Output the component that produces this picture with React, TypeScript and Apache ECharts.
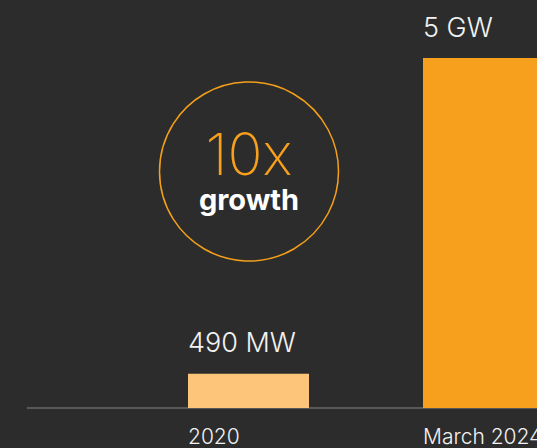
import React, { useEffect, useRef } from "react";
import * as echarts from "echarts";

const categories = ["2020", "March 2024"];
const capacityMW = [490, 5000];
const valueLabels = ["490 MW", "5 GW"];
const barColors = ["#fdc57a", "#f6a01d"];
const yMax = 5000;
const growthText = "10x";
const growthSub = "growth";

export default function App() {
  const ref = useRef<HTMLDivElement>(null);
  useEffect(() => {
    const chart = echarts.init(ref.current!, null, { renderer: "svg" });
    const fontFamily = "Inter, Roboto, sans-serif";
    chart.setOption({
      animation: false,
      backgroundColor: "#2c2c2c",
      grid: {
        left: 131,
        top: 58,
        width: 470,
        height: 350,
        containLabel: false,
        outerBoundsMode: "none",
      },
      xAxis: {
        type: "category",
        data: categories,
        axisLine: { show: false },
        axisTick: { show: false },
        axisLabel: {
          color: "#f2f2f2",
          fontSize: 21,
          fontFamily,
          fontWeight: 300,
          margin: 18,
          width: 121,
          align: "center",
          hideOverlap: false,
          formatter: "{a|{value}}",
          rich: { a: { align: "left", fontSize: 21, fontFamily, fontWeight: 300, color: "#f2f2f2" } },
        },
      },
      yAxis: { type: "value", min: 0, max: yMax, show: false, splitLine: { show: false } },
      series: [
        {
          type: "bar",
          barWidth: 121,
          data: capacityMW.map((v, i) => ({ value: v, itemStyle: { color: barColors[i] } })),
          label: {
            show: true,
            position: [0, -31],
            align: "left",
            verticalAlign: "middle",
            color: "#f2f2f2",
            fontSize: 27,
            fontFamily,
            fontWeight: 300,
            formatter: (p: any) => valueLabels[p.dataIndex],
          },
        },
      ],
      graphic: [
        {
          type: "line",
          shape: { x1: 27, y1: 408, x2: 537, y2: 408 },
          style: { stroke: "#5a5757", lineWidth: 2 },
          z: 0,
        },
        {
          type: "circle",
          shape: { cx: 249, cy: 171.5, r: 89.5 },
          style: { fill: "none", stroke: "#f5a01a", lineWidth: 1.5 },
        },
        {
          type: "text",
          x: 249,
          y: 171,
          style: {
            text: `{a|${growthText}}\n{b|${growthSub}}`,
            align: "center",
            verticalAlign: "middle",
            fontFamily,
            rich: {
              a: {
                fill: "#f6a01d",
                color: "#f6a01d",
                fontSize: 58,
                fontFamily,
                fontWeight: 200,
                lineHeight: 56,
                align: "center",
              },
              b: {
                fill: "#ffffff",
                color: "#ffffff",
                fontSize: 29,
                fontFamily,
                fontWeight: "bold",
                lineHeight: 34,
                align: "center",
              },
            },
          },
        },
      ],
    });
    return () => chart.dispose();
  }, []);
  return (
    <div
      ref={ref}
      style={{ position: "fixed", left: 0, top: 0, width: 537, height: 448 }}
    />
  );
}
